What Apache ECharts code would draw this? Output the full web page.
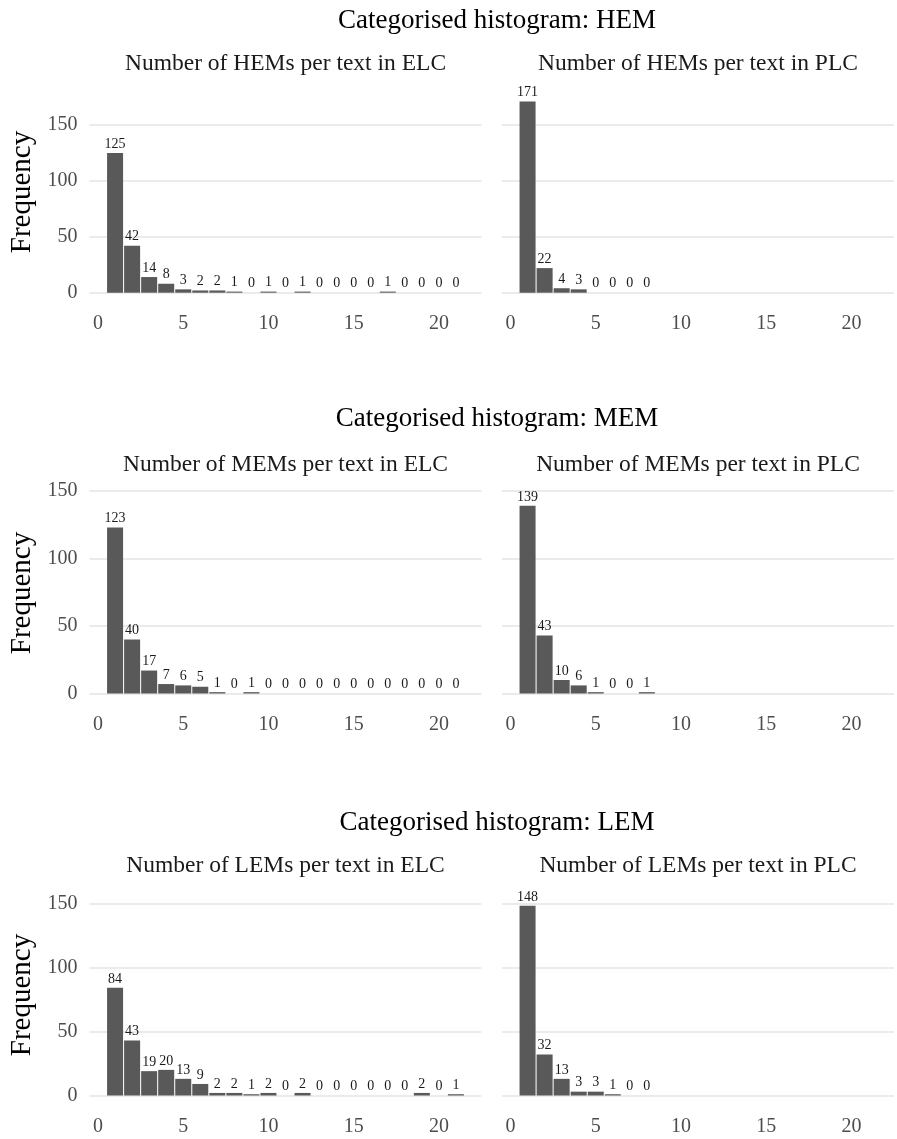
<!DOCTYPE html>
<html>
<head>
<meta charset="utf-8">
<title>Categorised histograms</title>
<script src="https://cdn.jsdelivr.net/npm/echarts@6/dist/echarts.min.js"></script>
<style>
html, body { margin: 0; padding: 0; background: #fff; }
#chart { width: 897px; height: 1139px; }
</style>
</head>
<body>
<div id="chart"></div>
<script>
// x axis bins (bars sit on 1..21), only every 5th is labelled
const xCategories = ['0', '1', '2', '3', '4', '5', '6', '7', '8', '9', '10', '11',
    '12', '13', '14', '15', '16', '17', '18', '19', '20', '21', '22'];
const xTickLabels = ['0', '5', '10', '15', '20'];
const yTicks = [0, 50, 100, 150];

const rowTitles = ['Categorised histogram: HEM', 'Categorised histogram: MEM', 'Categorised histogram: LEM'];
const panelTitles = [
    ['Number of HEMs per text in ELC', 'Number of HEMs per text in PLC'],
    ['Number of MEMs per text in ELC', 'Number of MEMs per text in PLC'],
    ['Number of LEMs per text in ELC', 'Number of LEMs per text in PLC']
];

// counts, first value is x = 1
const hemElc = [125, 42, 14, 8, 3, 2, 2, 1, 0, 1, 0, 1, 0, 0, 0, 0, 1, 0, 0, 0, 0];
const hemPlc = [171, 22, 4, 3, 0, 0, 0, 0];
const memElc = [123, 40, 17, 7, 6, 5, 1, 0, 1, 0, 0, 0, 0, 0, 0, 0, 0, 0, 0, 0, 0];
const memPlc = [139, 43, 10, 6, 1, 0, 0, 1];
const lemElc = [84, 43, 19, 20, 13, 9, 2, 2, 1, 2, 0, 2, 0, 0, 0, 0, 0, 0, 2, 0, 1];
const lemPlc = [148, 32, 13, 3, 3, 1, 0, 0];

const rowSeries = [[hemElc, hemPlc], [memElc, memPlc], [lemElc, lemPlc]];

// pixel layout of each row
const rows = [
    {top: 125, height: 167.7, title: 21, sub: 64, freq: 192},
    {top: 491, height: 202.5, title: 419, sub: 465, freq: 593},
    {top: 903.3, height: 192.2, title: 823, sub: 866, freq: 995}
];
const panelLeft = [89.5, 502];
const panelWidth = 392;

const FONT = '"Liberation Serif", "Times New Roman", serif';
const chart = echarts.init(document.getElementById('chart'));

let grids = [], xAxes = [], yAxes = [], series = [], graphics = [];

rows.forEach(function (row, r) {
    graphics.push({
        type: 'text', x: 497, y: row.title,
        style: {text: rowTitles[r], font: '27px ' + FONT, fill: '#000', align: 'center', verticalAlign: 'middle'}
    });
    graphics.push({
        type: 'text', x: 22, y: row.freq, rotation: Math.PI / 2,
        style: {text: 'Frequency', font: '29px ' + FONT, fill: '#000', align: 'center', verticalAlign: 'middle'}
    });
    for (let c = 0; c < 2; c++) {
        const idx = grids.length;
        grids.push({
            left: panelLeft[c], top: row.top, width: panelWidth, height: row.height,
            containLabel: false, outerBoundsMode: 'none'
        });
        graphics.push({
            type: 'text', x: panelLeft[c] + panelWidth / 2, y: row.sub,
            style: {text: panelTitles[r][c], font: '23.5px ' + FONT, fill: '#1a1a1a', align: 'center', verticalAlign: 'middle'}
        });
        xAxes.push({
            type: 'category', gridIndex: idx, data: xCategories, boundaryGap: true,
            axisLine: {show: false}, axisTick: {show: false}, splitLine: {show: false},
            axisLabel: {
                color: '#4d4d4d', fontFamily: FONT, fontSize: 20, margin: 21,
                interval: function (i, v) { return xTickLabels.indexOf(v) >= 0; }
            }
        });
        yAxes.push({
            type: 'value', gridIndex: idx, min: yTicks[0], max: yTicks[yTicks.length - 1],
            interval: yTicks[1] - yTicks[0],
            axisLine: {show: false}, axisTick: {show: false},
            axisLabel: {show: c === 0, color: '#4d4d4d', fontFamily: FONT, fontSize: 20, margin: 12},
            splitLine: {show: true, lineStyle: {color: '#ebebeb', width: 2}}
        });
        series.push({
            type: 'bar', xAxisIndex: idx, yAxisIndex: idx, clip: false,
            barCategoryGap: '6%',
            itemStyle: {color: '#595959'},
            label: {show: true, position: 'top', distance: 2, color: '#1a1a1a', fontFamily: FONT, fontSize: 14},
            data: rowSeries[r][c].map(function (v, i) { return [i + 1, v]; }),
            animation: false
        });
    }
});

chart.setOption({
    animation: false,
    grid: grids,
    xAxis: xAxes,
    yAxis: yAxes,
    series: series,
    graphic: graphics
});
</script>
</body>
</html>
